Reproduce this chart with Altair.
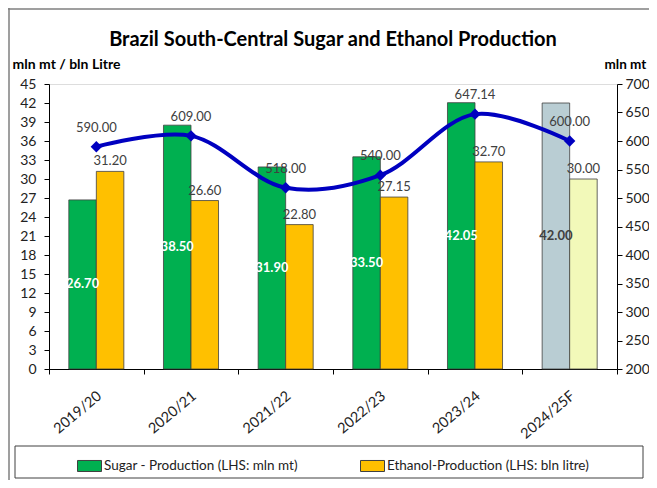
import altair as alt
import pandas as pd

# ---- data ----
years = ["2019/20", "2020/21", "2021/22", "2022/23", "2023/24", "2024/25F"]
sugar = [26.70, 38.50, 31.90, 33.50, 42.05, 42.00]
ethanol = [31.20, 26.60, 22.80, 27.15, 32.70, 30.00]
cane = [590.00, 609.00, 518.00, 540.00, 647.14, 600.00]
left_ticks = list(range(0, 46, 3))
right_ticks = list(range(200, 701, 50))

FORECAST = "2024/25F"
SUGAR = "Sugar - Production (LHS: mln mt)"
ETH = "Ethanol-Production (LHS: bln litre)"
SUGAR_F = "Sugar forecast"
ETH_F = "Ethanol forecast"

rows = []
for yr, s, e in zip(years, sugar, ethanol):
    f = yr == FORECAST
    rows.append({"year": yr, "series": "Sugar", "value": s, "key": SUGAR_F if f else SUGAR})
    rows.append({"year": yr, "series": "Ethanol", "value": e, "key": ETH_F if f else ETH})
bars_df = pd.DataFrame(rows)
line_df = pd.DataFrame({"year": years, "cane": cane})

FONT = "Lato"
TXT = "#404040"

x_enc = alt.X(
    "year:N", sort=years,
    scale=alt.Scale(paddingInner=0, paddingOuter=0),
    axis=alt.Axis(title=None, labelAngle=-40, labelAlign="right", labelBaseline="middle",
                  labelPadding=20, labelOffset=3, tickBand="extent", tickSize=5,
                  domainColor="black", tickColor="black", labelFontSize=14.5,
                  labelColor="#222222", labelFont=FONT, grid=False),
)
xoff = alt.XOffset("series:N", sort=["Sugar", "Ethanol"],
                   scale=alt.Scale(paddingInner=0, paddingOuter=0.72))
yl_scale = alt.Scale(domain=[0, 45], nice=False, zero=True)
yr_scale = alt.Scale(domain=[200, 700], nice=False, zero=False)

left_axis = alt.Axis(
    orient="left", values=left_ticks, grid=False, tickSize=5, labelPadding=8,
    domainColor="black", tickColor="black", labelFontSize=14, labelColor="#222222",
    labelFont=FONT, title="mln mt / bln Litre", titleAngle=0, titleX=-37, titleY=-16,
    titleAlign="left", titleBaseline="alphabetic", titleFontSize=14,
    titleFontWeight="bold", titleColor="black", titleFont=FONT,
)
right_axis = alt.Axis(
    orient="right", values=right_ticks, grid=False, tickSize=5, labelPadding=3,
    domainColor="black", tickColor="black", labelFontSize=14, labelColor="#222222",
    labelFont=FONT, title="mln mt", titleAngle=0, titleX=-13, titleY=-16,
    titleAlign="left", titleBaseline="alphabetic", titleFontSize=13.5,
    titleFontWeight="bold", titleColor="black", titleFont=FONT,
)

bars = alt.Chart(bars_df).mark_bar(stroke="#404040", strokeWidth=0.8, opacity=1).encode(
    x=x_enc,
    xOffset=xoff,
    y=alt.Y("value:Q", scale=yl_scale, axis=left_axis),
    color=alt.Color(
        "key:N",
        scale=alt.Scale(domain=[SUGAR, ETH, SUGAR_F, ETH_F],
                        range=["#00B050", "#FFC000", "#B9CDD3", "#F2F9B9"]),
        legend=alt.Legend(
            values=[SUGAR, ETH], title=None, orient="none", legendX=28, legendY=369,
            direction="horizontal", symbolType="M-1,-0.46H1V0.46H-1Z", symbolSize=576,
            symbolStrokeColor="#404040", symbolStrokeWidth=1, symbolOpacity=1,
            labelFontSize=13.5, labelFont=FONT, labelColor="#222222", labelOffset=2,
            columnPadding=60, padding=0, labelLimit=300,
        ),
    ),
)

sugar_labels = alt.Chart(bars_df).transform_filter(alt.datum.series == "Sugar").transform_calculate(
    mid="datum.value / 2"
).mark_text(fontWeight="bold", fontSize=13, font=FONT).encode(
    x=x_enc, xOffset=xoff,
    y=alt.Y("mid:Q", scale=yl_scale, axis=left_axis),
    text=alt.Text("value:Q", format=".2f"),
    color=alt.condition(alt.datum.year == FORECAST, alt.value(TXT), alt.value("white")),
)

eth_labels = alt.Chart(bars_df).transform_filter(alt.datum.series == "Ethanol").mark_text(
    fontSize=13, font=FONT, dy=-10, color=TXT
).encode(
    x=x_enc, xOffset=xoff,
    y=alt.Y("value:Q", scale=yl_scale, axis=left_axis),
    text=alt.Text("value:Q", format=".2f"),
)

one = pd.DataFrame({"k": [0]})
legend_box = alt.Chart(one).mark_rect(fillOpacity=0, stroke="#404040", strokeWidth=1).encode(
    x=alt.value(-34), x2=alt.value(594), y=alt.value(362), y2=alt.value(394)
)
frame_left = alt.Chart(one).mark_rule(color="#7F7F7F", strokeWidth=1.5).encode(
    x=alt.value(-40), y=alt.value(-76), y2=alt.value(400)
)
frame_top = alt.Chart(one).mark_rule(color="#7F7F7F", strokeWidth=1.5).encode(
    y=alt.value(-75), x=alt.value(-41), x2=alt.value(600)
)

left = alt.layer(frame_left, frame_top, legend_box, bars, sugar_labels, eth_labels)

line = alt.Chart(line_df).mark_line(color="#0000C0", strokeWidth=4, interpolate="catmull-rom").encode(
    x=x_enc, y=alt.Y("cane:Q", scale=yr_scale, axis=right_axis)
)
pts = alt.Chart(line_df).mark_point(shape="diamond", filled=True, size=130, color="#0000C0", opacity=1).encode(
    x=x_enc, y=alt.Y("cane:Q", scale=yr_scale, axis=right_axis)
)
line_labels = alt.Chart(line_df).mark_text(fontSize=13, font=FONT, dy=-19, color=TXT).encode(
    x=x_enc, y=alt.Y("cane:Q", scale=yr_scale, axis=right_axis),
    text=alt.Text("cane:Q", format=".2f"),
)
right = alt.layer(line, pts, line_labels)

chart = alt.layer(left, right).resolve_scale(y="independent").properties(
    width=568, height=285, autosize="none",
    padding={"left": 41, "top": 76, "right": 32, "bottom": 111},
    title=alt.TitleParams("Brazil South-Central Sugar and Ethanol Production", fontSize=20,
                          font=FONT, fontWeight="bold", anchor="middle", frame="group",
                          offset=-43, color="black"),
).configure_view(stroke="#BFBFBF", strokeWidth=1).configure(font=FONT, background="white")

chart.save("out.html", embed_options={"renderer": "svg", "actions": False})
